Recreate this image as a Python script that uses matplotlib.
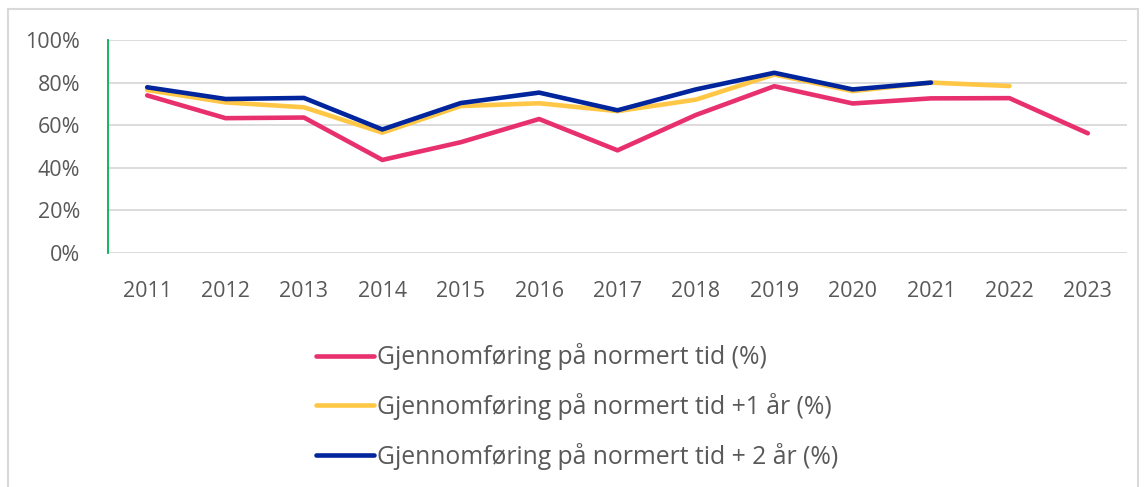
import numpy as np
import matplotlib.pyplot as plt
from matplotlib.patches import Rectangle
from matplotlib.ticker import PercentFormatter

plt.rcParams['font.family'] = ['Open Sans', 'DejaVu Sans']

years = ["2011", "2012", "2013", "2014", "2015", "2016", "2017",
         "2018", "2019", "2020", "2021", "2022", "2023"]
normert = [74, 63.3, 63.6, 43.7, 52, 62.9, 48.2, 64.8, 78.3, 70.2, 72.6, 72.7, 56.2]
pluss1 = [76.5, 70.7, 68.4, 56.5, 69, 70.3, 66.6, 72, 83.8, 76, 80, 78.4, np.nan]
pluss2 = [77.8, 72.3, 72.8, 58, 70.4, 75.3, 67, 76.8, 84.6, 76.8, 80, np.nan, np.nan]

labels = ["Gjennomføring på normert tid (%)",
          "Gjennomføring på normert tid +1 år (%)",
          "Gjennomføring på normert tid + 2 år (%)"]

W, H = 1147, 487
fig = plt.figure(figsize=(W / 100, H / 100), dpi=100)
fig.patches.append(Rectangle((8 / W, -0.1), (1138 - 8) / W, 1.1 - 9 / H,
                             transform=fig.transFigure, fill=False,
                             edgecolor='#d9d9d9', linewidth=1.5))

ax = fig.add_axes([108 / W, 1 - 253 / H, (1127 - 108) / W, (253 - 40) / H])
x = np.arange(len(years))

ax.plot(x, pluss1, color='#ffc745', lw=3.3, solid_capstyle='round', label=labels[1], zorder=3)
ax.plot(x, normert, color='#e8306f', lw=3.3, solid_capstyle='round', label=labels[0], zorder=4)
ax.plot(x, pluss2, color='#00259c', lw=3.3, solid_capstyle='round', label=labels[2], zorder=3)

ax.set_xlim(-0.5, len(years) - 0.5)
ax.set_ylim(0, 100)
ax.set_yticks(np.arange(0, 101, 20))
ax.yaxis.set_major_formatter(PercentFormatter(decimals=0))
ax.set_xticks(x)
ax.set_xticklabels(years)
ax.grid(axis='y', color='#d9d9d9', lw=1.3)
ax.set_axisbelow(True)

for s in ['top', 'right', 'bottom']:
    ax.spines[s].set_visible(False)
ax.spines['left'].set_color('#00b050')
ax.spines['left'].set_linewidth(1.3)

ax.tick_params(axis='both', length=0, labelsize=15.5, colors='#595959')
ax.tick_params(axis='y', pad=20)
ax.tick_params(axis='x', pad=20)

h, l = ax.get_legend_handles_labels()
order = [1, 0, 2]
fig.legend([h[i] for i in order], [l[i] for i in order],
           loc='upper left', bbox_to_anchor=(294 / W, 1 - 321 / H),
           frameon=False, fontsize=17.8, handlelength=2.35, handletextpad=0.1,
           labelspacing=0.92, labelcolor='#595959')

fig.savefig('out.png', dpi=100)
